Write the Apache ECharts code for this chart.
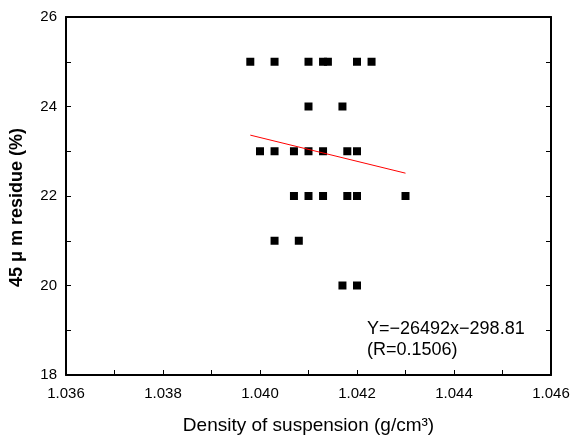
<!DOCTYPE html>
<html>
<head>
<meta charset="utf-8">
<script src="https://cdn.jsdelivr.net/npm/echarts@6/dist/echarts.min.js"></script>
<style>html,body{margin:0;padding:0;background:#fff}#c{width:571px;height:439px}</style>
</head>
<body>
<div id="c"></div>
<script>
var density = [1.0398,1.0403,1.0410,1.0413,1.0414,1.0420,1.0423,
               1.0410,1.0417,
               1.0400,1.0403,1.0407,1.0410,1.0413,1.0418,1.0420,
               1.0407,1.0410,1.0413,1.0418,1.0420,1.0430,
               1.0403,1.0408,
               1.0417,1.0420];
var residue = [25,25,25,25,25,25,25,
               24,24,
               23,23,23,23,23,23,23,
               22,22,22,22,22,22,
               21,21,
               20,20];
var fitX = [1.0398, 1.0430];
var fitY = [23.36, 22.51];
var xTicks = ['1.036','1.038','1.040','1.042','1.044','1.046'];
var equation = ['Y=\u221226492x\u2212298.81', '(R=0.1506)'];

var pts = density.map(function(d,i){return [d, residue[i]];});
var fit = fitX.map(function(d,i){return [d, fitY[i]];});
var FONT = 'Liberation Sans, Arial, sans-serif';
var chart = echarts.init(document.getElementById('c'));
var axisLine = {show:true, lineStyle:{color:'#000', width:2}};
var tick = {show:true, inside:true, length:5, lineStyle:{color:'#000', width:1}};
var minor = {show:true, splitNumber:2, length:5, lineStyle:{color:'#000', width:1}};
chart.setOption({
  animation:false,
  grid:{left:66, right:20, top:17, bottom:64, containLabel:false, outerBoundsMode:'none'},
  xAxis:[{
    type:'value', min:1.036, max:1.046, interval:0.002,
    axisLine:axisLine, axisTick:tick, minorTick:minor,
    splitLine:{show:false},
    axisLabel:{color:'#000', fontFamily:FONT, fontSize:15, margin:11,
      formatter:function(v){var i=Math.round((v-1.036)/0.002);return xTicks[i]!==undefined?xTicks[i]:'';}},
    name:'Density of suspension (g/cm\u00b3)', nameLocation:'middle', nameGap:41,
    nameTextStyle:{color:'#000', fontFamily:FONT, fontSize:19}
  },{
    type:'value', position:'top', min:1.036, max:1.046, interval:0.002,
    axisLine:axisLine, axisTick:{show:false}, axisLabel:{show:false}, splitLine:{show:false}
  }],
  yAxis:[{
    type:'value', min:18, max:26, interval:2,
    axisLine:axisLine, axisTick:tick, minorTick:minor,
    splitLine:{show:false},
    axisLabel:{color:'#000', fontFamily:FONT, fontSize:15, margin:9}
  },{
    type:'value', position:'right', min:18, max:26, interval:2,
    axisLine:axisLine, axisTick:tick, minorTick:minor,
    axisLabel:{show:false}, splitLine:{show:false}
  }],
  graphic:[{
    type:'text', left:8, top:128, rotation:Math.PI/2,
    style:{text:'45 \u03bc m residue (%)', fill:'#000', font:'bold 18px Liberation Sans, Arial, sans-serif'}
  },{
    type:'text', left:367, top:319,
    style:{text:equation.join('\n'), fill:'#000', font:'18px Liberation Sans, Arial, sans-serif', lineHeight:21}
  }],
  series:[{
    type:'scatter', data:pts, symbol:'rect', symbolSize:8,
    itemStyle:{color:'#000', opacity:1}
  },{
    type:'line', data:fit, symbol:'none',
    lineStyle:{color:'#ff0000', width:1}
  }]
});
</script>
</body>
</html>
